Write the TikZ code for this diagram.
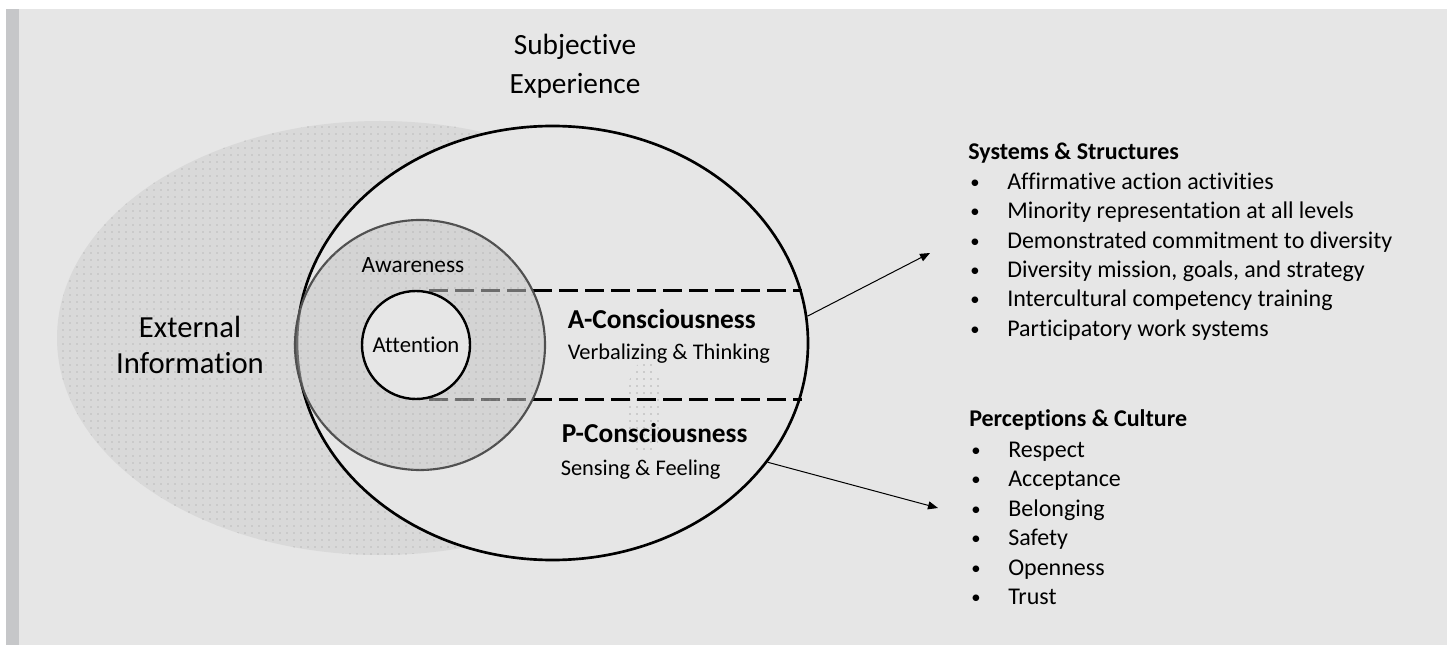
\documentclass[tikz,border=0pt]{standalone}
\usepackage{fontspec}
\setmainfont{Carlito}[Ligatures=NoCommon]
\usetikzlibrary{arrows.meta,shapes.geometric,patterns.meta}

\definecolor{slidebg}{HTML}{E6E6E6}
\definecolor{slidebar}{HTML}{C6C7C9}
\definecolor{dotbase}{HTML}{D9D9D9}
\definecolor{dotink}{HTML}{9A9A9A}
\definecolor{ringline}{HTML}{505050}

\tikzset{
  dot fill/.style={
    postaction={fill opacity=1, pattern={Dots[distance=5.25pt,radius=0.45pt]}, pattern color=dotink}
  },
  zone/.style={ellipse, inner sep=0pt},
  ring/.style={circle, inner sep=0pt},
  big label/.style={font=\fontsize{23}{26.5}\selectfont, align=center, inner sep=0pt},
  small label/.style={font=\fontsize{17.5}{20}\selectfont, inner sep=0pt, anchor=base},
  state title/.style={font=\fontsize{20.5}{24}\selectfont\bfseries, inner sep=0pt, anchor=base west},
  state note/.style={font=\fontsize{16.8}{20}\selectfont, inner sep=0pt, anchor=base west},
  divider/.style={line width=2pt, dash pattern=on 14.5pt off 5pt},
  link arrow/.style={line width=0.75pt, -{Triangle[length=7.5pt,width=6pt]}},
  list head/.style={font=\fontsize{18}{22}\selectfont\bfseries, inner sep=0pt, anchor=base west},
  list item/.style={font=\fontsize{18}{22}\selectfont, inner sep=0pt, anchor=base west},
  list bullet/.style={font=\fontsize{14}{16}\selectfont, inner sep=0pt, anchor=base west}
}

\begin{document}
\begin{tikzpicture}[x=0.75pt, y=-0.75pt]
  % slide background and side bar
  \fill[white] (0,0) rectangle (1447,645);
  \useasboundingbox (0,0) rectangle (1447,645);
  \fill[slidebar] (6,9) rectangle (19,645);
  \fill[slidebg] (19,9) rectangle (1447,645);

  % outer field of external information
  \node[zone, fill=dotbase, dot fill, minimum width=484.5pt, minimum height=325.5pt] (ext) at (380,338) {};
  \node[big label] (extlabel) at (190,345) {External\\Information};

  % subjective experience
  \node[zone, fill=slidebg, draw=black, line width=2pt, minimum width=383.25pt, minimum height=325.5pt] (subj) at (552.5,343) {};
  \node[font=\fontsize{22}{29}\selectfont, align=center, inner sep=0pt] (subjlabel) at (575,66) {Subjective\\Experience};

  % small dotted patch between the two states
  \path[postaction={pattern={Dots[distance=5.25pt,radius=0.55pt]}, pattern color=black!55}] (645,408) ellipse (19 and 47);
  \node[zone, minimum width=28.5pt, minimum height=70.5pt] (patch) at (645,408) {};

  % a/p split
  \node[ring, minimum size=81pt] (attpos) at (416,345) {};
  \draw[divider] (attpos.north) ++(13,0) -- (attpos.north -| subj.12);
  \draw[divider] (attpos.south) ++(13,0) -- (attpos.south -| subj.-12);

  % awareness and attention
  \node[ring, fill=black!22, fill opacity=0.55, dot fill, draw=ringline, draw opacity=1, line width=1.6pt, minimum size=187.5pt] (aware) at (420,345) {};
  \node[small label] (awarelabel) at (413,272.7) {Awareness};
  \node[ring, fill=slidebg, draw=black, line width=1.8pt, minimum size=81pt, font=\fontsize{17}{19}\selectfont] (att) at (416,345) {Attention};

  \node[state title] (acons) at (567.5,328.3) {A-Consciousness};
  \node[state note] (anote) at (567.5,360) {Verbalizing \& Thinking};
  \node[state title] (pcons) at (561.5,442.7) {P-Consciousness};
  \node[state note] (pnote) at (560.5,475) {Sensing \& Feeling};

  % outcome lists
  \node[list head] (syshead) at (968,159.3) {Systems \& Structures};
  \foreach \txt [count=\k] in {Affirmative action activities, Minority representation at all levels, Demonstrated commitment to diversity, {Diversity mission, goals, and strategy}, Intercultural competency training, Participatory work systems}{
    \node[list bullet] (sysdot\k) at (970,{188.3+29.4*(\k-1)}) {•};
    \node[list item] (sys\k) at (1007,{189.3+29.4*(\k-1)}) {\txt};
  }

  \node[list head] (perchead) at (969,426.7) {Perceptions \& Culture};
  \foreach \txt [count=\k] in {Respect, Acceptance, Belonging, Safety, Openness, Trust}{
    \node[list bullet] (percdot\k) at (971,{456.3+29.5*(\k-1)}) {•};
    \node[list item] (perc\k) at (1008,{457.3+29.5*(\k-1)}) {\txt};
  }

  \coordinate (sysin) at (930,253);
  \coordinate (percin) at (938,508);
  \draw[link arrow] (subj.6) -- (sysin);
  \draw[link arrow] (subj.-29.5) -- (percin);
\end{tikzpicture}
\end{document}
